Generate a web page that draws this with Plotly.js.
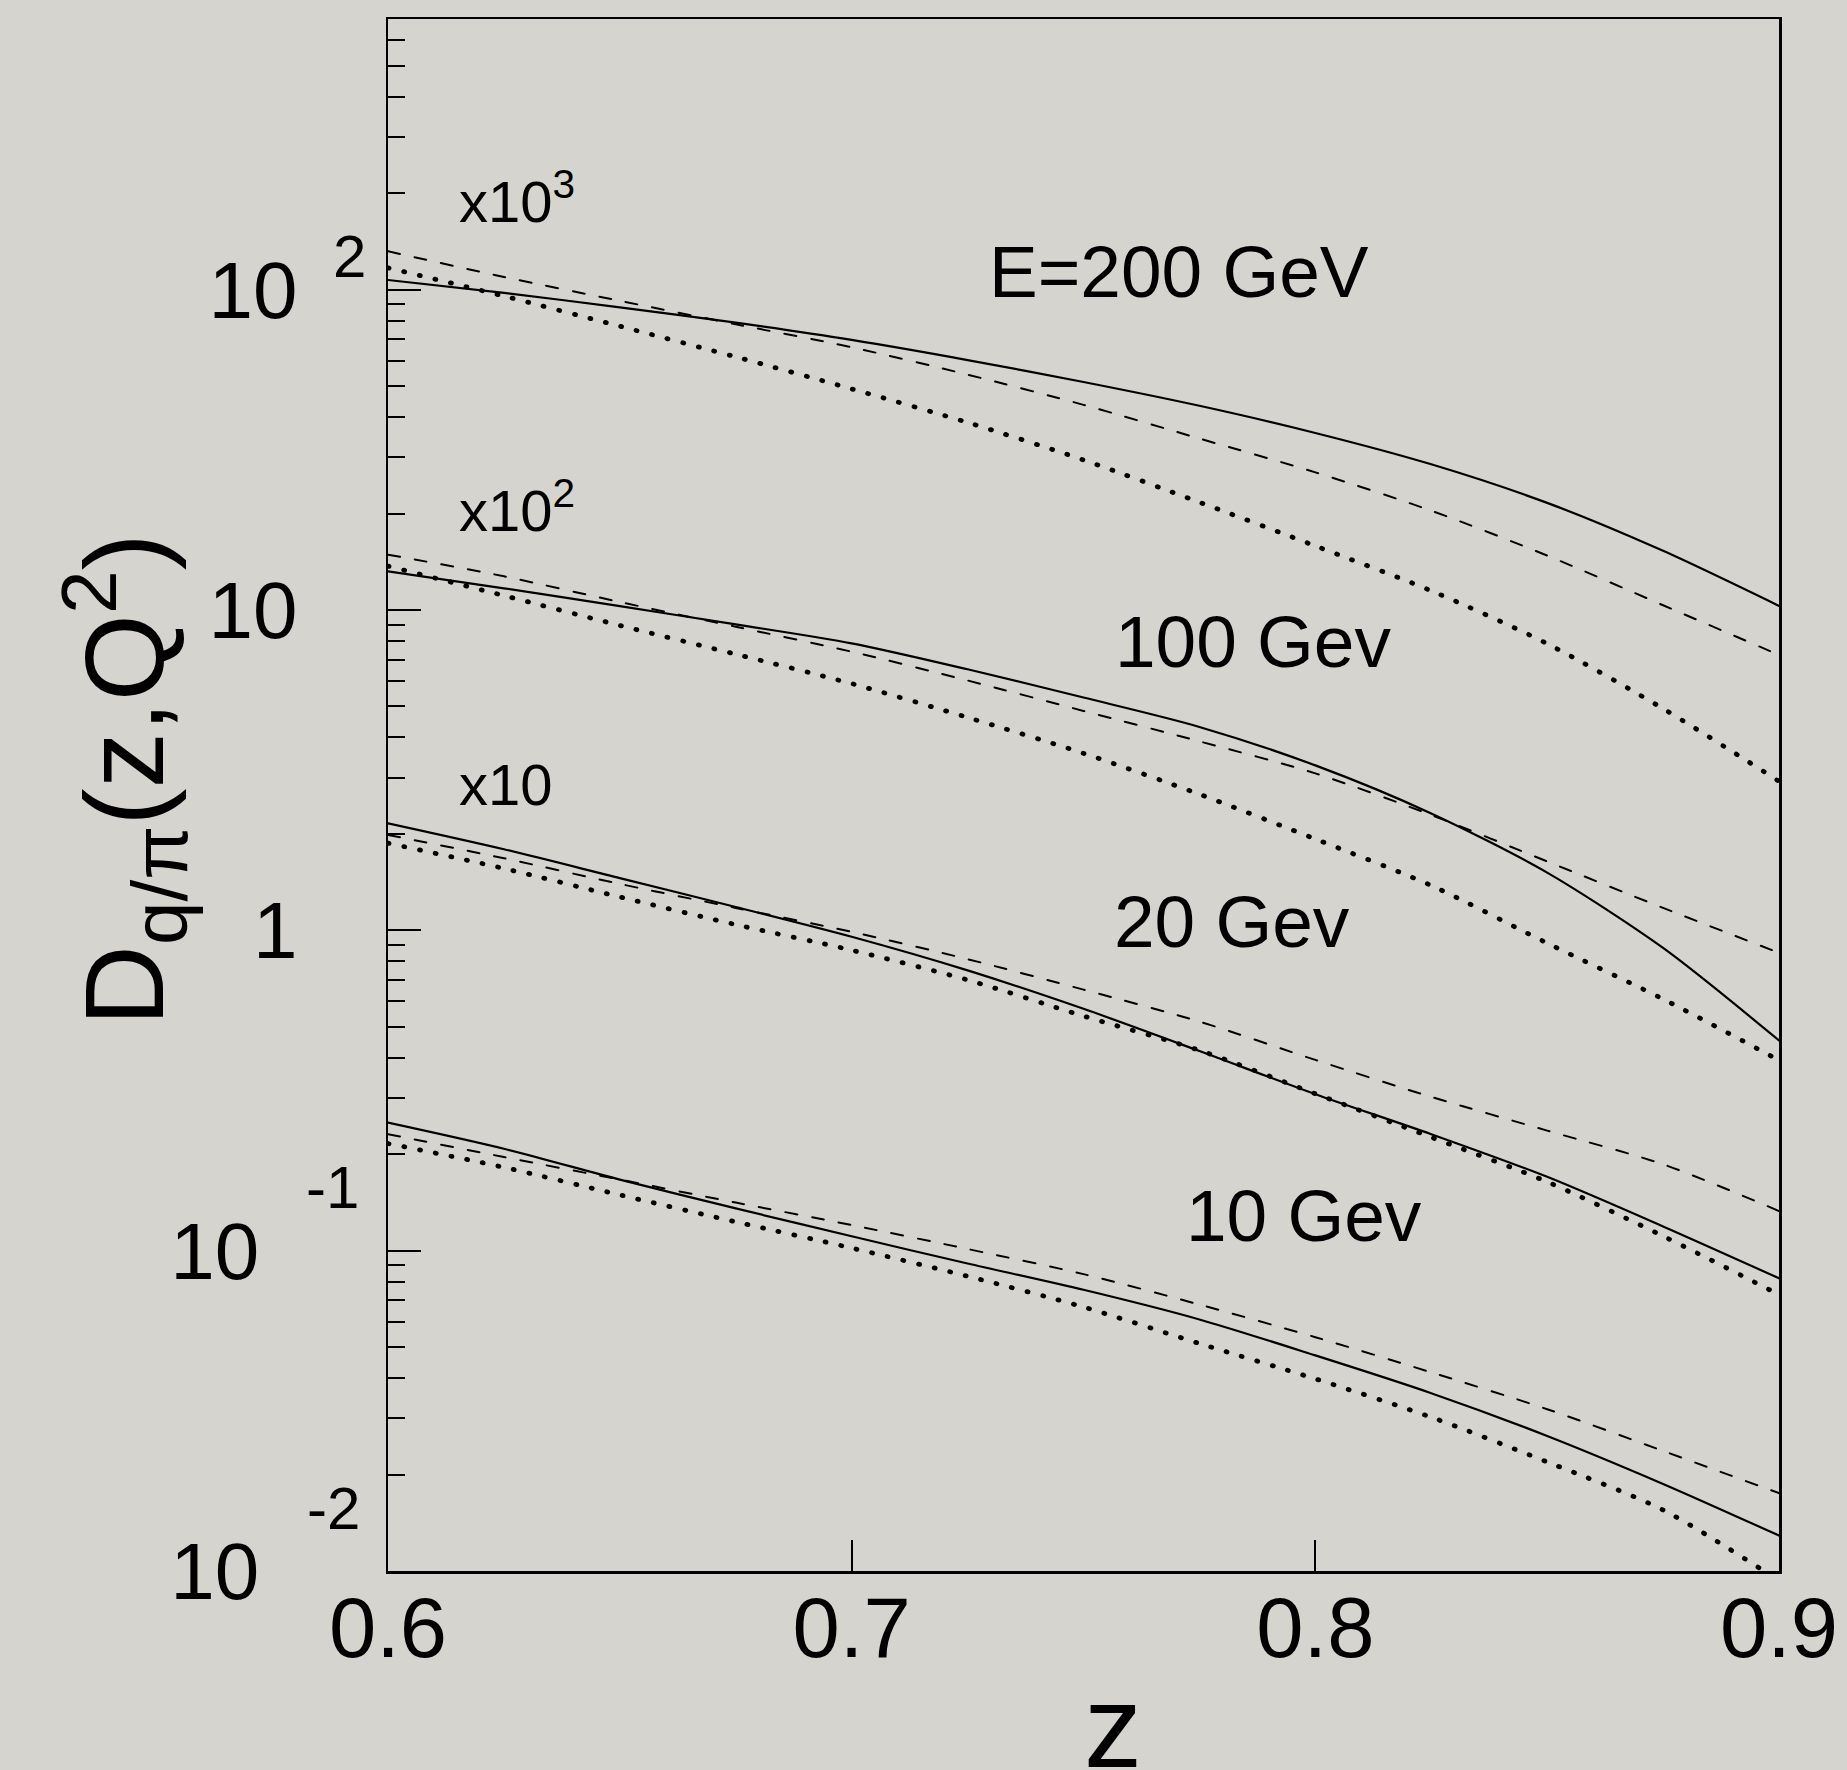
<!DOCTYPE html>
<html><head><meta charset="utf-8">
<script src="https://cdn.plot.ly/plotly-3.0.1.min.js"></script>
<style>
html,body{margin:0;padding:0;background:#d6d4ce;}
#chart{width:1847px;height:1770px;}
.js-line{stroke-linecap:round;}
</style></head><body><div id="chart"></div><script>
// z grid
const z = [0.6,0.625,0.65,0.675,0.7,0.725,0.75,0.775,0.8,0.825,0.85,0.875,0.9];

// E=200 GeV (x10^3)
const e200Solid  = [107.2,97.7,88.1,78.9,69.7,60.3,51.5,43.4,35.7,28.5,21.6,15.3,10.3];
const e200Dashed = [131.8,109.6,92.3,78.0,66.1,54.3,43.7,34.3,26.9,20.42,14.79,10.35,7.24];
const e200Dotted = [117.0,95.5,76.9,61.7,49.0,38.5,29.4,21.7,15.85,11.48,7.85,4.92,2.92];
// 100 GeV (x10^2)
const e100Solid  = [13.21,11.69,10.28,9.02,7.87,6.53,5.33,4.315,3.273,2.317,1.514,0.881,0.453];
const e100Dashed = [14.89,12.74,10.59,8.87,7.41,6.026,4.842,3.890,3.090,2.291,1.641,1.175,0.851];
const e100Dotted = [13.71,11.09,8.95,7.28,5.89,4.62,3.57,2.66,1.928,1.380,0.912,0.610,0.393];
// 20 GeV (x10)
const e20Solid  = [2.158,1.791,1.455,1.183,0.955,0.750,0.569,0.420,0.308,0.231,0.170,0.119,0.0820];
const e20Dashed = [1.986,1.679,1.396,1.175,0.989,0.813,0.653,0.519,0.394,0.302,0.237,0.186,0.133];
const e20Dotted = [1.871,1.560,1.271,1.042,0.867,0.700,0.540,0.422,0.309,0.226,0.164,0.111,0.0729];
// 10 GeV
const e10Solid  = [0.251,0.208,0.1667,0.1355,0.1109,0.0912,0.0755,0.0610,0.0471,0.0359,0.0264,0.0187,0.0129];
const e10Dashed = [0.231,0.196,0.1667,0.1413,0.1202,0.1012,0.0845,0.0679,0.0537,0.0417,0.0320,0.0237,0.0175];
const e10Dotted = [0.216,0.182,0.1493,0.1230,0.1019,0.0832,0.0667,0.0513,0.0398,0.0302,0.0219,0.0155,0.00933];

// axis ticks
const xTickVals = [0.6,0.7,0.8,0.9];
const xTickText = ['0.6','0.7','0.8','0.9'];
const yTickVals = [0.01,0.1,1,10,100];
const yTickText = ['10\u00a0\u2009','10\u00a0\u2009','1','10','10'];
const yExpText  = ['-2','-1','2'];
const yMinorVals = [0.02,0.03,0.04,0.05,0.06,0.07,0.08,0.09,
                    0.2,0.3,0.4,0.5,0.6,0.7,0.8,0.9,
                    2,3,4,5,6,7,8,9,
                    20,30,40,50,60,70,80,90,
                    200,300,400,500,600];

// titles and in-plot labels
const xTitle = 'z';
const yTitle = 'D<sub>q/\u03c0</sub>(z,Q<sup>2</sup>)';
const labelText = ['x10<sup>3</sup>','x10<sup>2</sup>','x10','E=200 GeV','100 Gev','20 Gev','10 Gev'];

const FONT = 'Liberation Sans, Arial, Helvetica, sans-serif';
const styles = {
  solid:  {color:'#000', width:2.2, dash:'solid'},
  dashed: {color:'#000', width:2.0, dash:'12px,15px'},
  dotted: {color:'#000', width:4.8, dash:'1px,15px'}
};
const series = [
  [e200Solid,'solid','200 GeV solid'],[e200Dashed,'dashed','200 GeV dashed'],[e200Dotted,'dotted','200 GeV dotted'],
  [e100Solid,'solid','100 GeV solid'],[e100Dashed,'dashed','100 GeV dashed'],[e100Dotted,'dotted','100 GeV dotted'],
  [e20Solid,'solid','20 GeV solid'],[e20Dashed,'dashed','20 GeV dashed'],[e20Dotted,'dotted','20 GeV dotted'],
  [e10Solid,'solid','10 GeV solid'],[e10Dashed,'dashed','10 GeV dashed'],[e10Dotted,'dotted','10 GeV dotted']
];
const traces = series.map(([y,s,name]) => ({
  x: z, y: y, type:'scatter', mode:'lines', name: name,
  line: Object.assign({shape:'spline', smoothing:0.8}, styles[s]),
  hoverinfo:'skip'
}));

// layout geometry (pixels)
const W = 1847, H = 1770;
const L = 388, R = 1779, T = 19, B = 1571;
const px = X => (X - L) / (R - L);
const py = Y => (B - Y) / (B - T);

const labelPos = [
  [457, 197, 'left', 58], [457, 506, 'left', 58], [457, 784, 'left', 58],
  [1179, 271, 'center', 73], [1253, 641, 'center', 73], [1232, 922, 'center', 73], [1304, 1215, 'center', 73]
];
const annotations = labelText.map((t,i) => ({
  text: t, xref:'paper', yref:'paper', x: px(labelPos[i][0]), y: py(labelPos[i][1]),
  xanchor: labelPos[i][2], yanchor:'middle', showarrow:false,
  font:{family:FONT, size:labelPos[i][3], color:'#000'}
}));
const expPos = [[333,1508],[332,1187],[349,256]];
yExpText.forEach((t,i) => annotations.push({
  text: t, xref:'paper', yref:'paper', x: px(expPos[i][0]), y: py(expPos[i][1]),
  xanchor:'center', yanchor:'middle', showarrow:false,
  font:{family:FONT, size:60, color:'#000'}
}));
// axis titles
annotations.push({
  text: yTitle, xref:'paper', yref:'paper', x: px(124), y: py(780),
  xanchor:'center', yanchor:'middle', showarrow:false, textangle:-90,
  font:{family:FONT, size:112, color:'#000'}
});
annotations.push({
  text: xTitle, xref:'paper', yref:'paper', x: px(1113), y: py(1727),
  xanchor:'center', yanchor:'middle', showarrow:false,
  font:{family:FONT, size:116, color:'#000'}
});

const layout = {
  width: W, height: H,
  margin: {l: L, r: W - R, t: T, b: H - B, pad: 0},
  paper_bgcolor:'#d6d4ce', plot_bgcolor:'#d6d4ce',
  showlegend:false,
  font:{family:FONT, color:'#000'},
  xaxis:{
    range:[0.6,0.9], tickmode:'array', tickvals:xTickVals, ticktext:xTickText,
    ticks:'inside', ticklen:31, tickwidth:2, tickcolor:'#000',
    showline:true, linecolor:'#000', linewidth:2.5, mirror:true,
    showgrid:false, zeroline:false, ticklabelstandoff:-19,
    tickfont:{family:FONT, size:85, color:'#000'},
    automargin:false
  },
  yaxis:{
    type:'log', range:[-2, 2.845], tickmode:'array', tickvals:yTickVals, ticktext:yTickText,
    ticks:'inside', ticklen:33, tickwidth:2, tickcolor:'#000',
    minor:{tickmode:'array', tickvals:yMinorVals, ticks:'inside', ticklen:17, tickwidth:2, tickcolor:'#000', showgrid:false},
    showline:true, linecolor:'#000', linewidth:2.5, mirror:true,
    showgrid:false, zeroline:false, ticklabelstandoff:72,
    tickfont:{family:FONT, size:80, color:'#000'},
    automargin:false
  },
  annotations: annotations
};

Plotly.newPlot('chart', traces, layout, {displayModeBar:false, staticPlot:true});
</script></body></html>
